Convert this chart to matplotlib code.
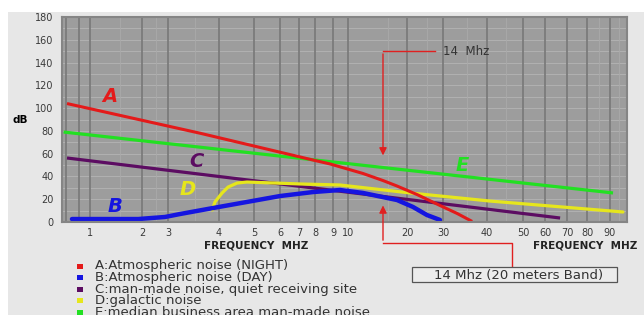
import numpy as np
import matplotlib
matplotlib.use("Agg")
import matplotlib.pyplot as plt
from matplotlib.patches import Rectangle

plt.rcParams['font.family'] = ['DejaVu Sans']

# noise curves, frequency in MHz, level in dB
a_freq = [0.566, 3.59, 8.0, 8.82, 11.55, 14.0, 17.24, 22.4, 29.0, 32.9, 36.3]
a_db = [104, 78, 54, 51, 42.6, 36.4, 31.6, 24.1, 14.5, 7.5, 0.5]

b_freq = [0.64, 1.9, 2.86, 3.21, 3.87, 4.78, 6.0, 7.87, 9.45, 11.55, 17.24, 21.4, 25.05, 29.0]
b_db = [2.6, 2.6, 4.4, 7.0, 12.3, 17.6, 22.8, 26.3, 28.1, 25.5, 19.3, 13.2, 6.1, 1.8]

c_freq = [0.566, 66.7]
c_db = [56.2, 3.5]

d_freq = [3.85, 3.91, 4.08, 4.24, 4.49, 4.78, 7.06, 9.45, 20.7, 40.75, 97.5]
d_db = [10.5, 17.6, 25.5, 30.7, 34.2, 35.1, 33.4, 32.5, 25.5, 18.4, 8.8]

e_freq = [0.52, 8.82, 91.7]
e_db = [79, 53, 25.5]

tick_freq = [1, 2, 3, 4, 5, 6, 7, 8, 9, 10, 20, 30, 40, 50, 60, 70, 80, 90]
tick_labels = ['1', '2', '3', '4', '5', '6', '7', '8', '9', '10',
               '20', '30', '40', '50', '60', '70', '80', '90']

legend_labels = ['A:Atmospheric noise (NIGHT)',
                 'B:Atmospheric noise (DAY)',
                 'C:man-made noise, quiet receiving site',
                 'D:galactic noise',
                 'E:median business area man-made noise']

RED = '#e41a1a'
BLUE = '#1515e0'
PURPLE = '#5c0c62'
YELLOW = '#e6e61c'
GREEN = '#22e022'
colors = [RED, BLUE, PURPLE, YELLOW, GREEN]

# the hand-drawn frequency axis of the original is not a true log axis,
# so map frequency -> horizontal position piecewise
axis_f = np.log10([0.5, 1, 2, 3, 4, 5, 6, 7, 8, 9, 10, 14, 20, 30, 40, 50, 60, 70, 80, 90, 100])
axis_p = np.array([62, 90, 142, 168, 219, 254, 280, 299, 315, 333, 348, 383, 407, 443,
                   487, 523, 545, 567, 587, 610, 627], dtype=float)


def fwd(f):
    f = np.clip(np.asarray(f, dtype=float), 1e-3, None)
    return np.interp(np.log10(f), axis_f, axis_p)


def inv(p):
    return 10 ** np.interp(p, axis_p, axis_f)


W, H = 644, 315
fig = plt.figure(figsize=(W / 100, H / 100), dpi=100)
fig.patch.set_facecolor('white')
fig.add_artist(Rectangle((8 / W, 0), 1, 1 - 12 / H, transform=fig.transFigure,
                         facecolor='#e7e7e7', edgecolor='none', zorder=-10))

ax = fig.add_axes([62 / W, 1 - 222 / H, (627 - 62) / W, (222 - 17) / H])
ax.set_xscale('function', functions=(fwd, inv))
ax.set_xlim(0.5, 100)
ax.set_ylim(0, 180)
ax.set_facecolor('#9d9d9d')

# grid
for y in range(10, 180, 10):
    ax.axhline(y, color='#b1b1b1', lw=0.7, zorder=0)
for f in [0.552, 0.761] + tick_freq:
    ax.axvline(f, color='#7b7b7b', lw=1.3, zorder=0)
for f in [1.5, 2.5, 3.5, 15, 25, 35, 45, 85, 95]:
    ax.axvline(f, color='#aaaaaa', lw=0.6, zorder=0)

for s in ax.spines.values():
    s.set_color('#858585')
    s.set_linewidth(1.5)

ax.set_yticks(range(0, 181, 20))
ax.set_xticks(tick_freq)
ax.set_xticklabels(tick_labels)
ax.minorticks_off()
ax.tick_params(length=0, labelsize=7, colors='#3a3a3a')
ax.tick_params(axis='x', pad=4)
ax.tick_params(axis='y', pad=6)

ax.plot(e_freq, e_db, color=GREEN, lw=2.3, solid_capstyle='butt')
ax.plot(c_freq, c_db, color=PURPLE, lw=2.3, solid_capstyle='butt')
ax.plot(d_freq, d_db, color=YELLOW, lw=2.3, solid_capstyle='round')
ax.plot(b_freq, b_db, color=BLUE, lw=3.2, solid_capstyle='round')
ax.plot(a_freq, a_db, color=RED, lw=2.2, solid_capstyle='butt')

lab_kw = dict(fontsize=14, fontweight='bold', fontstyle='italic', ha='center', va='center')
ax.text(1.31, 110, 'A', color=RED, **lab_kw)
ax.text(1.40, 13.2, 'B', color=BLUE, **lab_kw)
ax.text(3.53, 52.7, 'C', color=PURPLE, **lab_kw)
ax.text(3.36, 28.1, 'D', color=YELLOW, **lab_kw)
ax.text(34, 50, 'E', color=GREEN, **lab_kw)

# 14 MHz markers
ann = '#e02020'
ax.plot([27.4, 14], [150, 150], color=ann, lw=1)
ax.annotate('', xy=(14, 56), xytext=(14, 150),
            arrowprops=dict(arrowstyle='-|>', color=ann, lw=1, mutation_scale=11))
ax.text(30, 150, '14  Mhz', fontsize=8.5, color='#333333', va='center')
ax.annotate('', xy=(14, 17), xytext=(14, -18.4), annotation_clip=False,
            arrowprops=dict(arrowstyle='-|>', color=ann, lw=1, mutation_scale=11))
ax.plot([14, 46.7, 46.7], [-18.4, -18.4, -39.5], color=ann, lw=1, clip_on=False)

fig.add_artist(Rectangle((412 / W, 1 - 282 / H), 205 / W, 15 / H, transform=fig.transFigure,
                         facecolor='#ececec', edgecolor='#555555', lw=0.9))
fig.text(519 / W, 1 - 275 / H, '14 Mhz (20 meters Band)', fontsize=9.5, color='#333333',
         ha='center', va='center')

fig.text(20 / W, 1 - 120 / H, 'dB', fontsize=7.5, fontweight='bold', ha='center', va='center')
fig.text(256 / W, 1 - 245 / H, 'FREQUENCY  MHZ', fontsize=7.5, fontweight='bold',
         ha='center', va='center', color='#222222')
fig.text(533 / W, 1 - 245 / H, 'FREQUENCY  MHZ', fontsize=7.5, fontweight='bold',
         ha='left', va='center', color='#222222')

for i, (lab, c) in enumerate(zip(legend_labels, colors)):
    yy = 266 + i * 11.5
    fig.add_artist(Rectangle((77 / W, 1 - (yy + 2.5) / H), 6 / W, 5 / H,
                             transform=fig.transFigure, facecolor=c, edgecolor='none'))
    fig.text(95 / W, 1 - yy / H, lab, fontsize=9.5, color='#333333', va='center')

fig.savefig('out.png', dpi=100)
